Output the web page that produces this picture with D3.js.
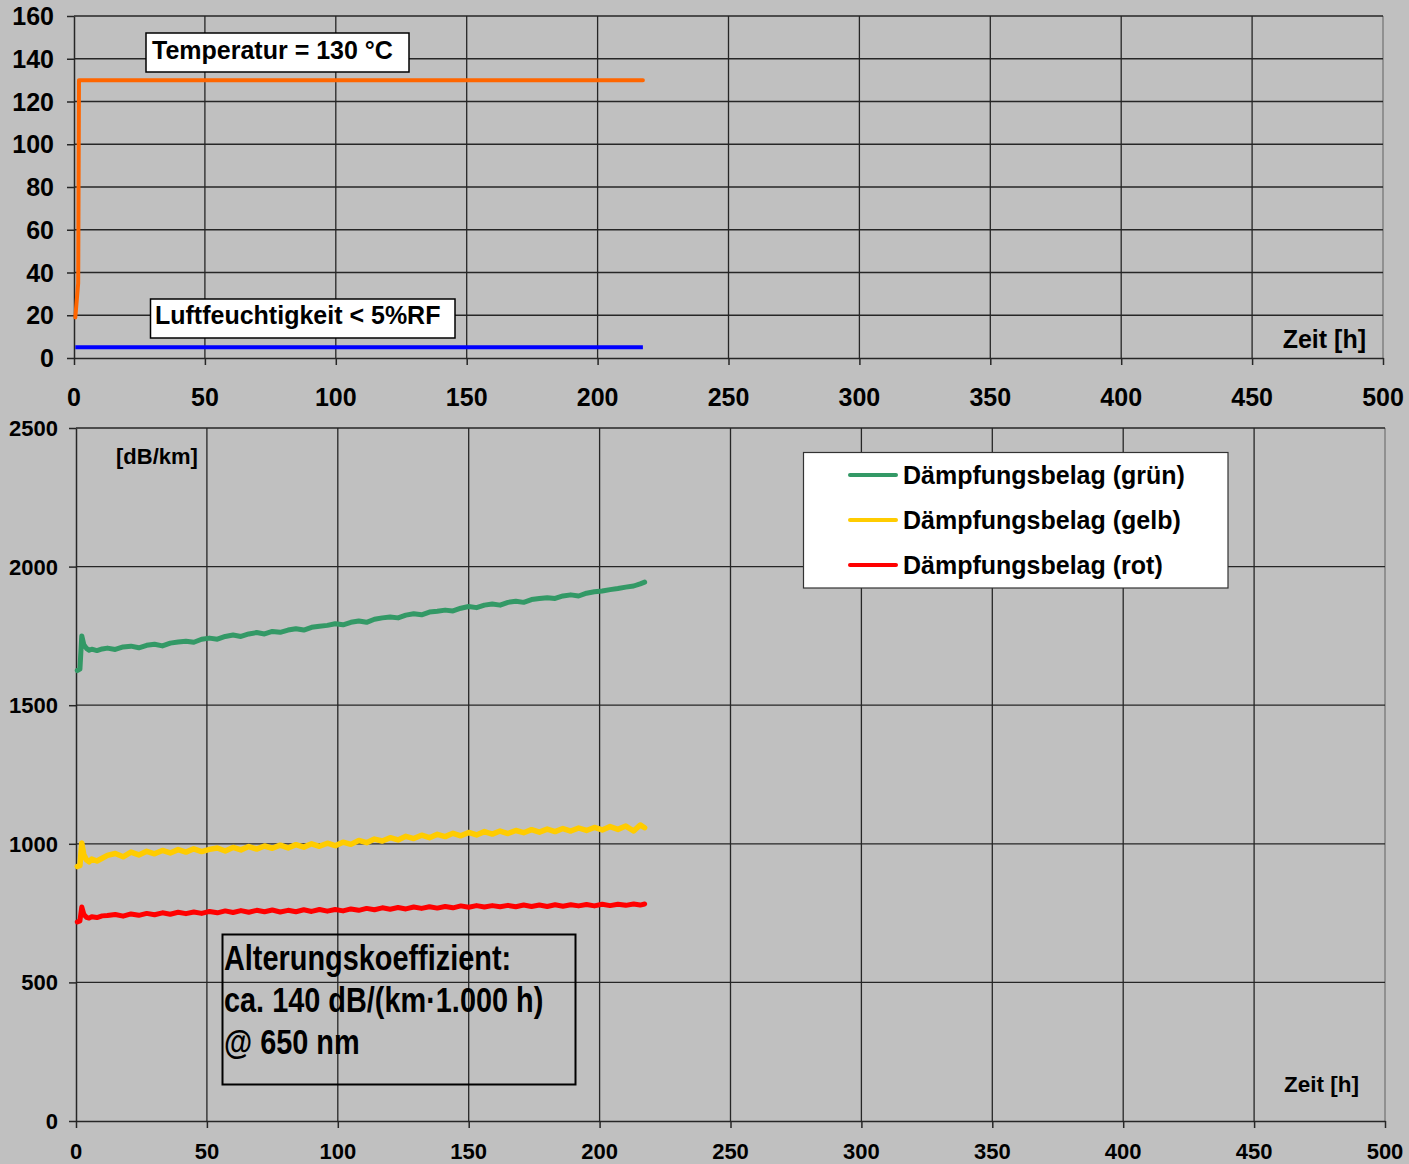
<!DOCTYPE html>
<html><head><meta charset="utf-8">
<script src="https://cdn.jsdelivr.net/npm/d3@7"></script>
<style>
html,body{margin:0;padding:0;background:#c0c0c0;}
text{font-family:"Liberation Sans",Arial,sans-serif;font-weight:bold;fill:#000;}
</style></head>
<body>
<svg id="chart" width="1409" height="1164"></svg>
<script>
// ---------- data ----------
const xTicks = [0, 50, 100, 150, 200, 250, 300, 350, 400, 450, 500];
const yTopTicks = [0, 20, 40, 60, 80, 100, 120, 140, 160];
const yBotTicks = [0, 500, 1000, 1500, 2000, 2500];

const tempHours = [0.5, 1.6, 1.9, 217.3];
const tempValues = [19, 35, 130, 130];
const humHours = [0.5, 217.3];
const humValues = [5, 5];

const hours = [0.5,1.5,2.2,3,4,5,6,8,10,12,15,18,21,24,27,30,33,36,39,42,45,48,51,54,57,60,63,66,69,72,75,78,81,84,87,90,93,96,99,102,105,108,111,114,117,120,123,126,129,132,135,138,141,144,147,150,153,156,159,162,165,168,171,174,177,180,183,186,189,192,195,198,201,204,207,210,213,215.5,217.2];
const gruen = [1625,1630,1750,1718,1705,1698,1702,1697,1703,
 1706,1701,1710,1713,1707,1716,1720,1714,1724,1728,1731,1727,1738,1742,1738,1748,1753,1748,1757,1762,1757,1766,1763,1771,1776,1771,1781,1785,1788,1794,1790,1799,1804,1799,1810,1815,1818,1815,1825,1830,1826,1836,1839,1843,1840,1850,1856,1852,1861,1865,1861,1871,1875,1871,1881,1885,1888,1885,1894,1898,1894,1904,1909,1912,1917,1921,1926,1930,1938,
 1944];
const gelb = [918,922,1003,960,942,935,945,938,948,
 958,965,953,970,960,973,964,976,967,979,970,982,972,980,985,974,987,978,990,981,992,984,995,985,997,988,1000,991,1002,993,1006,998,1012,1004,1017,1010,1022,1014,1027,1019,1031,1022,1034,1026,1038,1029,1041,1032,1044,1035,1046,1037,1048,1040,1051,1042,1053,1044,1055,1046,1057,1048,1059,1050,1062,1052,1064,1046,1068,
 1058];
const rot = [718,722,772,745,735,732,737,734,740,
 741,745,739,747,742,749,744,751,746,753,748,754,749,756,751,758,752,759,753,760,755,761,754,760,755,762,756,763,757,763,758,765,760,767,762,769,764,770,765,772,767,773,768,774,769,776,771,777,772,777,773,778,773,779,774,779,774,780,775,780,776,781,776,782,777,782,778,783,779,
 783];

const seriesNames = ["Dämpfungsbelag (grün)", "Dämpfungsbelag (gelb)", "Dämpfungsbelag (rot)"];
const seriesColors = ["#339966", "#ffcc00", "#ff0000"];
const seriesValues = [gruen, gelb, rot];

// ---------- drawing ----------
const svg = d3.select("#chart");
svg.append("rect").attr("width", 1409).attr("height", 1164).attr("fill", "#c0c0c0");

function panel(opts) {
  const x = d3.scaleLinear().domain([0, 500]).range([opts.x0, opts.x1]);
  const y = d3.scaleLinear().domain(opts.yDomain).range([opts.y0, opts.y1]);
  const g = svg.append("g");
  g.append("line").attr("x1", opts.x1).attr("x2", opts.x1).attr("y1", opts.y1).attr("y2", opts.y0)
    .attr("stroke", "#808080").attr("stroke-width", 1.5);
  g.append("g").selectAll("line").data(xTicks.filter(d => d > 0 && d < 500)).join("line")
    .attr("x1", d => x(d)).attr("x2", d => x(d)).attr("y1", opts.y1).attr("y2", opts.y0)
    .attr("stroke", "#262626").attr("stroke-width", 1.3);
  g.append("g").selectAll("line").data(opts.yTicks.filter(d => d > 0)).join("line")
    .attr("x1", opts.x0).attr("x2", opts.x1).attr("y1", d => y(d)).attr("y2", d => y(d))
    .attr("stroke", "#262626").attr("stroke-width", 1.3);
  const ax = g.append("g").attr("transform", `translate(0,${opts.y0})`)
    .call(d3.axisBottom(x).tickValues(xTicks).tickSizeInner(7).tickSizeOuter(0).tickFormat(""));
  const ay = g.append("g").attr("transform", `translate(${opts.x0},0)`)
    .call(d3.axisLeft(y).tickValues(opts.yTicks).tickSizeInner(7).tickSizeOuter(0).tickFormat(""));
  [ax, ay].forEach(a => { a.selectAll("path,line").attr("stroke", "#262626").attr("stroke-width", 1.5); });
  g.append("g").selectAll("text").data(xTicks).join("text")
    .attr("x", d => x(d)).attr("y", opts.xLabelY).attr("text-anchor", "middle")
    .style("font-size", opts.fs + "px").text(d => d);
  g.append("g").selectAll("text").data(opts.yTicks).join("text")
    .attr("x", opts.yLabelX).attr("y", d => y(d)).attr("dy", "0.36em").attr("text-anchor", "end")
    .style("font-size", opts.fs + "px").text(d => d);
  return { x, y, g };
}

// top panel
const topP = panel({ x0: 74, x1: 1383, y0: 358, y1: 16, yDomain: [0, 160], yTicks: yTopTicks,
  xLabelY: 406, yLabelX: 54, fs: 25 });
const lineTop = d3.line().x(d => topP.x(d[0])).y(d => topP.y(d[1]));
topP.g.append("path").datum(humHours.map((h, i) => [h, humValues[i]]))
  .attr("d", lineTop).attr("fill", "none").attr("stroke", "#0000ff").attr("stroke-width", 4);
topP.g.append("path").datum(tempHours.map((h, i) => [h, tempValues[i]]))
  .attr("d", lineTop).attr("fill", "none").attr("stroke", "#ff6600").attr("stroke-width", 4)
  .attr("stroke-linejoin", "round").attr("stroke-linecap", "round");

function labelBox(g, x, y, w, h, tx, ty, txt, fs) {
  g.append("rect").attr("x", x).attr("y", y).attr("width", w).attr("height", h)
    .attr("fill", "#fff").attr("stroke", "#000").attr("stroke-width", 1.5);
  g.append("text").attr("x", tx).attr("y", ty).style("font-size", fs + "px").text(txt);
}
labelBox(topP.g, 146, 33, 263, 39, 152, 59, "Temperatur = 130 °C", 25);
labelBox(topP.g, 150.5, 299, 304.5, 39, 155, 324, "Luftfeuchtigkeit < 5%RF", 25);
topP.g.append("text").attr("x", 1366).attr("y", 348).attr("text-anchor", "end")
  .style("font-size", "25px").text("Zeit [h]");

// bottom panel
const botP = panel({ x0: 76, x1: 1385, y0: 1121, y1: 428, yDomain: [0, 2500], yTicks: yBotTicks,
  xLabelY: 1159, yLabelX: 58, fs: 22 });
const lineBot = d3.line().x(d => botP.x(d[0])).y(d => botP.y(d[1]));
seriesValues.forEach((vals, si) => {
  const pts = hours.slice(0, vals.length).map((h, i) => [h, vals[i]]);
  botP.g.append("path").datum(pts).attr("d", lineBot).attr("fill", "none")
    .attr("stroke", seriesColors[si]).attr("stroke-width", si === 1 ? 5.5 : 5)
    .attr("stroke-linejoin", "round").attr("stroke-linecap", "round");
});

botP.g.append("text").attr("x", 116).attr("y", 464).style("font-size", "22px").text("[dB/km]");
botP.g.append("text").attr("x", 1359).attr("y", 1092).attr("text-anchor", "end")
  .style("font-size", "22.5px").text("Zeit [h]");

// legend
const lg = botP.g.append("g");
lg.append("rect").attr("x", 803.5).attr("y", 452.5).attr("width", 424.5).attr("height", 135.5)
  .attr("fill", "#fff").attr("stroke", "#333").attr("stroke-width", 1.2);
const legY = [475, 520, 565];
seriesNames.forEach((n, i) => {
  lg.append("line").attr("x1", 850).attr("x2", 896).attr("y1", legY[i]).attr("y2", legY[i])
    .attr("stroke", seriesColors[i]).attr("stroke-width", 4).attr("stroke-linecap", "round");
  lg.append("text").attr("x", 903).attr("y", legY[i] + 9).style("font-size", "25px").text(n);
});

// annotation box
const ann = botP.g.append("g");
ann.append("rect").attr("x", 222.5).attr("y", 934.5).attr("width", 353).attr("height", 150)
  .attr("fill", "none").attr("stroke", "#000").attr("stroke-width", 2);
const annLines = ["Alterungskoeffizient:", "ca. 140 dB/(km·1.000 h)", "@ 650 nm"];
const annBase = [970, 1012, 1054];
annLines.forEach((t, i) => {
  ann.append("text").attr("transform", `translate(224,${annBase[i]}) scale(0.825,1)`)
    .style("font-size", "35px").text(t);
});
</script>
</body></html>
